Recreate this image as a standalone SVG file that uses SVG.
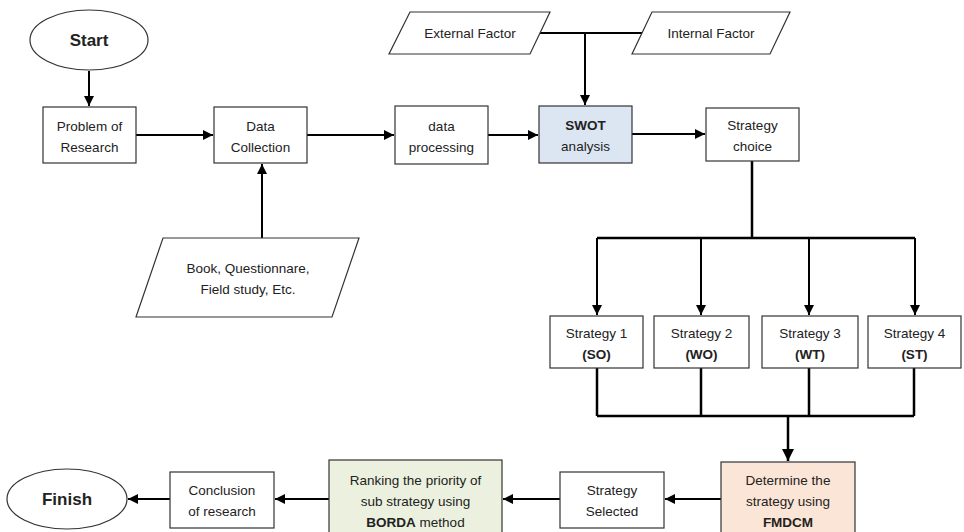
<svg xmlns="http://www.w3.org/2000/svg" width="964" height="532" viewBox="0 0 964 532">
<defs>
<style>
text{font-family:"Liberation Sans",Arial,sans-serif;font-size:13.5px;fill:#222;text-anchor:middle}
.b{font-weight:bold}
.box{fill:#fff;stroke:#333;stroke-width:1.2}
.c{fill:none;stroke:#000;stroke-width:2}
.t{fill:none;stroke:#000;stroke-width:2.5}
</style>
<marker id="a" viewBox="0 0 10 10" refX="10" refY="5" markerWidth="5" markerHeight="5" orient="auto"><path d="M0,0 L10,5 L0,10 z" fill="#000"/></marker>
</defs>
<rect width="964" height="532" fill="#fff"/>
<g id="connectors">
<path class="c" d="M89,71 V106" marker-end="url(#a)"/>
<path class="c" d="M136,135 H213" marker-end="url(#a)"/>
<path class="c" d="M262,238 V164" marker-end="url(#a)"/>
<path class="c" d="M307,135 H394" marker-end="url(#a)"/>
<path class="c" d="M488,135 H538" marker-end="url(#a)"/>
<path class="c" d="M540,33 H642"/>
<path class="c" d="M585,33 V105" marker-end="url(#a)"/>
<path class="c" d="M632,134 H705" marker-end="url(#a)"/>
<path class="t" d="M752,161 V238 M597,238 H915"/>
<path class="c" d="M597,238 V315" marker-end="url(#a)"/>
<path class="c" d="M701,238 V315" marker-end="url(#a)"/>
<path class="c" d="M809,238 V315" marker-end="url(#a)"/>
<path class="c" d="M915,238 V315" marker-end="url(#a)"/>
<path class="t" d="M597,368 V416 M701,368 V416 M809,368 V416 M914,368 V416 M597,416 H914"/>
<path class="t" d="M788,416 V461" marker-end="url(#a)"/>
<path class="c" d="M721,499 H665" marker-end="url(#a)"/>
<path class="c" d="M560,499 H503" marker-end="url(#a)"/>
<path class="c" d="M329,499 H275" marker-end="url(#a)"/>
<path class="c" d="M170,499 H128" marker-end="url(#a)"/>
</g>
<g id="start"><ellipse cx="89" cy="40" rx="59" ry="30" class="box"/><text x="89" y="46" class="b" style="font-size:17px">Start</text></g>
<g id="problem"><rect x="43" y="107" width="93" height="56" class="box"/><text x="89.5" y="131">Problem of</text><text x="89.5" y="152">Research</text></g>
<g id="datacollection"><rect x="214" y="107" width="93" height="56" class="box"/><text x="260.5" y="131">Data</text><text x="260.5" y="152">Collection</text></g>
<g id="book"><polygon points="163,238 359,238 332,317 136,317" class="box"/><text x="248" y="273">Book, Questionnare,</text><text x="248" y="294">Field study, Etc.</text></g>
<g id="dataprocessing"><rect x="395" y="106" width="93" height="58" class="box"/><text x="441.5" y="131">data</text><text x="441.5" y="152">processing</text></g>
<g id="external"><polygon points="410,12 550,12 530,54 389,54" class="box"/><text x="470" y="38">External Factor</text></g>
<g id="internal"><polygon points="652,12 790,12 770,54 632,54" class="box"/><text x="711" y="38">Internal Factor</text></g>
<g id="swot"><rect x="539" y="106" width="93" height="57" fill="#dce6f2" stroke="#333" stroke-width="1.2"/><text x="585.5" y="130" class="b">SWOT</text><text x="585.5" y="151">analysis</text></g>
<g id="choice"><rect x="706" y="108" width="93" height="53" class="box"/><text x="752.5" y="130">Strategy</text><text x="752.5" y="151">choice</text></g>
<g id="s1"><rect x="550" y="316" width="93" height="52" class="box"/><text x="596.5" y="338">Strategy 1</text><text x="596.5" y="359" class="b">(SO)</text></g>
<g id="s2"><rect x="654" y="316" width="95" height="52" class="box"/><text x="701.5" y="338">Strategy 2</text><text x="701.5" y="359" class="b">(WO)</text></g>
<g id="s3"><rect x="762" y="316" width="96" height="52" class="box"/><text x="810" y="338">Strategy 3</text><text x="810" y="359" class="b">(WT)</text></g>
<g id="s4"><rect x="868" y="316" width="93" height="52" class="box"/><text x="914.5" y="338">Strategy 4</text><text x="914.5" y="359" class="b">(ST)</text></g>
<g id="fmdcm"><rect x="721" y="462" width="134" height="80" fill="#fbe5d6" stroke="#333" stroke-width="1.2"/><text x="788" y="485">Determine the</text><text x="788" y="506">strategy using</text><text x="788" y="527" class="b">FMDCM</text></g>
<g id="selected"><rect x="560" y="472" width="104" height="56" class="box"/><text x="612" y="495">Strategy</text><text x="612" y="516">Selected</text></g>
<g id="borda"><rect x="329" y="460" width="173" height="82" fill="#ebf1de" stroke="#333" stroke-width="1.2"/><text x="415.5" y="485">Ranking the priority of</text><text x="415.5" y="506">sub strategy using</text><text x="415.5" y="527"><tspan class="b">BORDA</tspan> method</text></g>
<g id="conclusion"><rect x="170" y="472" width="104" height="56" class="box"/><text x="222" y="495">Conclusion</text><text x="222" y="516">of research</text></g>
<g id="finish"><ellipse cx="67" cy="499" rx="60" ry="30" class="box"/><text x="67" y="505" class="b" style="font-size:17px">Finish</text></g>
</svg>
